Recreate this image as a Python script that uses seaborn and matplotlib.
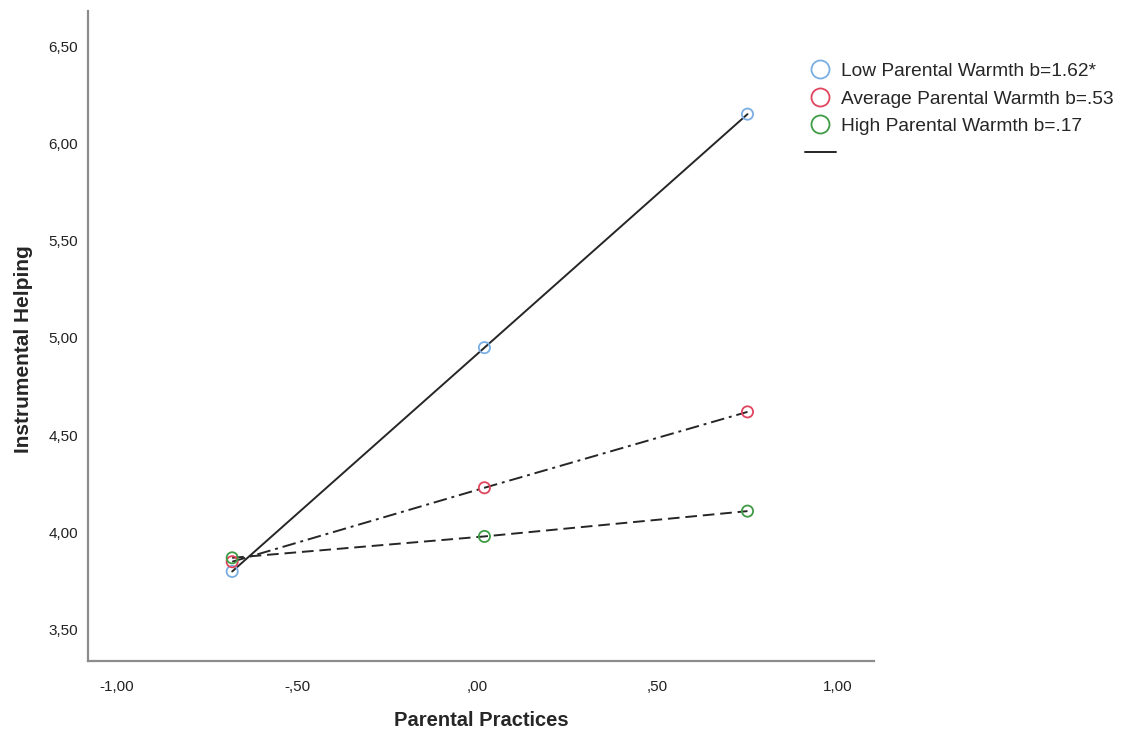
import matplotlib
matplotlib.use("Agg")
import matplotlib.pyplot as plt
from matplotlib.lines import Line2D
import pandas as pd
import seaborn as sns

# simple slopes: instrumental helping by parental practices at three warmth levels
practices = [-0.68, 0.02, 0.75]
low_warmth = [3.80, 4.95, 6.15]
avg_warmth = [3.85, 4.23, 4.62]
high_warmth = [3.87, 3.98, 4.11]

group_labels = [
    "Low Parental Warmth b=1.62*",
    "Average Parental Warmth b=.53",
    "High Parental Warmth b=.17",
]
group_colors = ["#7aaee3", "#e0455e", "#3f9b45"]
group_dashes = ["", (7, 2.5, 1.5, 2.5), (6, 3)]

x_ticks = [-1.0, -0.5, 0.0, 0.5, 1.0]
x_tick_labels = ["-1,00", "-,50", ",00", ",50", "1,00"]
y_ticks = [3.5, 4.0, 4.5, 5.0, 5.5, 6.0, 6.5]
y_tick_labels = ["3,50", "4,00", "4,50", "5,00", "5,50", "6,00", "6,50"]

df = pd.DataFrame({
    "practices": practices * 3,
    "helping": low_warmth + avg_warmth + high_warmth,
    "group": [g for g in group_labels for _ in practices],
})

sns.set_theme(style="white")
plt.rcParams["font.family"] = ["Liberation Sans", "DejaVu Sans"]

fig = plt.figure(figsize=(11.39, 7.34), dpi=100)
ax = fig.add_axes([0.0773, 0.0995, 0.6897, 0.8855])

sns.lineplot(
    data=df, x="practices", y="helping", style="group",
    dashes=dict(zip(group_labels, group_dashes)), color="#262626",
    linewidth=1.4, legend=False, ax=ax,
)
sns.scatterplot(
    data=df, x="practices", y="helping", hue="group",
    palette=dict(zip(group_labels, group_colors)), legend=False,
    s=65, linewidths=1.3, ax=ax, zorder=3,
)
# open circles: scatterplot fills with the hue colour, so move it to the edges
coll = ax.collections[-1]
coll.set_edgecolors(coll.get_facecolors())
coll.set_facecolors("none")

ax.set_xlim(-1.08, 1.10)
ax.set_ylim(3.34, 6.68)
ax.set_xticks(x_ticks)
ax.set_xticklabels(x_tick_labels)
ax.set_yticks(y_ticks)
ax.set_yticklabels(y_tick_labels)
ax.tick_params(axis="both", length=0, labelsize=11, colors="#222222", pad=7)
ax.tick_params(axis="x", pad=14)

for side in ["top", "right"]:
    ax.spines[side].set_visible(False)
for side in ["left", "bottom"]:
    ax.spines[side].set_color("#8c8c8c")
    ax.spines[side].set_linewidth(1.6)

ax.set_xlabel("Parental Practices", fontsize=14.5, fontweight="bold", labelpad=12)
ax.set_ylabel("Instrumental Helping", fontsize=15, fontweight="bold", labelpad=12)
ax.yaxis.set_label_coords(-0.07, 0.48)

handles = [
    Line2D([], [], linestyle="none", marker="o", markersize=13,
           markerfacecolor="none", markeredgecolor=c, markeredgewidth=1.3)
    for c in group_colors
]
handles.append(Line2D([], [], color="#262626", linewidth=1.4))
fig.legend(
    handles, group_labels + [""], loc="upper left",
    bbox_to_anchor=(0.700, 0.925), frameon=False, fontsize=13.8,
    handlelength=1.6, handletextpad=0.3, labelspacing=0.52,
    borderaxespad=0,
)

fig.savefig("out.png", dpi=100)
